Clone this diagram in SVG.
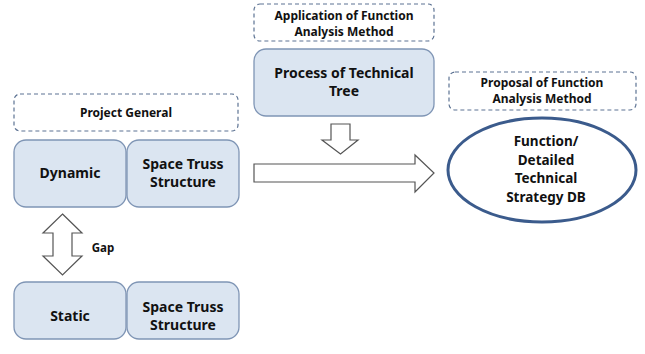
<svg xmlns="http://www.w3.org/2000/svg" width="645" height="354" viewBox="0 0 645 354">
  <style>
    .box { fill: #dbe5f1; stroke: #7f95b5; stroke-width: 1.3; }
    .tag { fill: #ffffff; stroke: #5d7393; stroke-width: 1.2; stroke-dasharray: 4 3; }
    .arrow { fill: #ffffff; stroke: #555555; stroke-width: 1.2; stroke-linejoin: miter; }
    .big { font-family: "Noto Sans", "Liberation Sans", sans-serif; font-weight: bold; font-size: 14px; fill: #111111; text-anchor: middle; }
    .small { font-family: "Noto Sans", "Liberation Sans", sans-serif; font-weight: bold; font-size: 12px; fill: #111111; text-anchor: middle; }
    .db { font-size: 13.5px; }
  </style>
  <rect width="645" height="354" fill="#ffffff"/>

  <g id="connectors">
    <!-- two-way gap arrow -->
    <polygon class="arrow" points="62.5,214 82,233 72,233 72,256 82,256 62.5,275 43,256 53,256 53,233 43,233"/>
    <!-- down arrow under the technical tree -->
    <polygon class="arrow" points="331,124 350,124 350,140 358,140 340.5,154 322,140 331,140"/>
    <!-- main arrow to the strategy DB -->
    <polygon class="arrow" points="254,164 415,164 415,155 434,173 415,192 415,182 254,182"/>
    <text class="small" x="103" y="252" style="font-size:11.5px">Gap</text>
  </g>

  <g id="project-general">
    <rect class="tag" x="14" y="94" width="224" height="37" rx="6"/>
    <text class="small" x="126" y="117">Project General</text>
  </g>

  <g id="dynamic">
    <rect class="box" x="14" y="140" width="112" height="67" rx="12"/>
    <text class="big" x="70" y="178">Dynamic</text>
  </g>

  <g id="space-truss-dynamic">
    <rect class="box" x="127" y="140" width="112" height="67" rx="12"/>
    <text class="big" x="183" y="169">Space Truss</text>
    <text class="big" x="183" y="187">Structure</text>
  </g>

  <g id="static">
    <rect class="box" x="14" y="282" width="112" height="57" rx="12"/>
    <text class="big" x="70" y="321">Static</text>
  </g>

  <g id="space-truss-static">
    <rect class="box" x="127" y="282" width="112" height="57" rx="12"/>
    <text class="big" x="183" y="312">Space Truss</text>
    <text class="big" x="183" y="330">Structure</text>
  </g>

  <g id="application-label">
    <rect class="tag" x="254" y="4" width="180" height="37" rx="6"/>
    <text class="small" x="344" y="20">Application of Function</text>
    <text class="small" x="344" y="36">Analysis Method</text>
  </g>

  <g id="technical-tree">
    <rect class="box" x="254" y="49" width="180" height="67" rx="12"/>
    <text class="big" x="344" y="78">Process of Technical</text>
    <text class="big" x="344" y="96">Tree</text>
  </g>

  <g id="proposal-label">
    <rect class="tag" x="449" y="72" width="187" height="38" rx="6"/>
    <text class="small" x="542" y="87">Proposal of Function</text>
    <text class="small" x="542" y="103">Analysis Method</text>
  </g>

  <g id="strategy-db">
    <ellipse cx="542" cy="170" rx="94" ry="52" fill="#ffffff" stroke="#3b5b8c" stroke-width="3"/>
    <text class="big db" x="546" y="146">Function/</text>
    <text class="big db" x="546" y="164.5">Detailed</text>
    <text class="big db" x="546" y="183">Technical</text>
    <text class="big db" x="546" y="201.5">Strategy DB</text>
  </g>
</svg>
